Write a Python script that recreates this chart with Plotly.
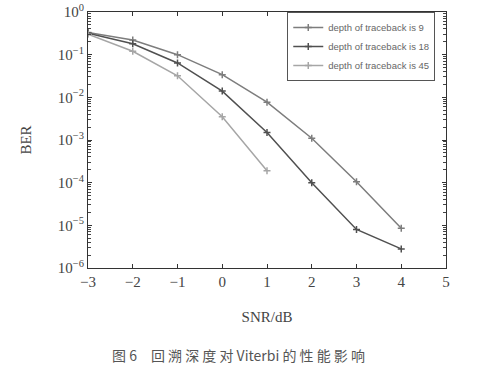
import plotly.graph_objects as go

snr = [-3, -2, -1, 0, 1, 2, 3, 4]
snr45 = [-3, -2, -1, 0, 1]
ber_tb9 = [0.33, 0.22, 0.10, 0.034, 0.0077, 0.0011, 1.05e-4, 8.5e-6]
ber_tb18 = [0.32, 0.18, 0.064, 0.014, 0.0015, 1.0e-4, 8.0e-6, 2.8e-6]
ber_tb45 = [0.30, 0.12, 0.032, 0.0035, 1.9e-4]
names = ["depth of traceback is 9", "depth of traceback is 18", "depth of traceback is 45"]
x_ticks = [-3, -2, -1, 0, 1, 2, 3, 4, 5]
y_exps = [0, -1, -2, -3, -4, -5, -6]

colors = ["#7d7d7d", "#505050", "#a6a6a6"]
series = [(snr, ber_tb9), (snr, ber_tb18), (snr45, ber_tb45)]

minor_vals = [m * 10.0 ** e for e in range(-6, 0) for m in range(2, 10)]

fig = go.Figure()
for (xs, ys), nm, c in zip(series, names, colors):
    fig.add_trace(go.Scatter(
        x=xs, y=ys, name=nm, mode="lines+markers",
        line=dict(color=c, width=1.5),
        marker=dict(symbol="cross-thin-open", size=5, color=c, line=dict(color=c, width=1.5)),
    ))

serif = "Liberation Serif, Times New Roman, serif"
axis_common = dict(
    showline=True, linecolor="#333", linewidth=1.2, mirror="ticks",
    ticks="inside", ticklen=4, tickcolor="#333", showgrid=False, zeroline=False,
    tickfont=dict(family=serif, size=15, color="#444"), automargin=False,
    ticklabeloverflow="allow",
)

fig.update_layout(
    width=487, height=370,
    margin=dict(l=88, r=41, t=12, b=102),
    paper_bgcolor="white", plot_bgcolor="white",
    showlegend=True,
    legend=dict(
        x=0.97, y=1.0, xanchor="right", yanchor="top",
        bordercolor="#555", borderwidth=1, bgcolor="white",
        font=dict(family="Liberation Sans, Arial, sans-serif", size=9.5, color="#666"),
        tracegroupgap=0, itemwidth=30,
    ),
    xaxis=dict(
        range=[-3, 5], tickvals=x_ticks,
        ticktext=[("\u2212" + str(-v)) if v < 0 else str(v) for v in x_ticks],
        title=dict(text="SNR/dB", font=dict(family=serif, size=15, color="#444"), standoff=22),
        **axis_common,
    ),
    yaxis=dict(
        type="log", range=[-6, 0], tickmode="array",
        tickvals=[10.0 ** e for e in y_exps],
        ticktext=["10<sup>" + ("\u2212" + str(-e) if e < 0 else str(e)) + "</sup>" for e in y_exps],
        minor=dict(ticks="inside", ticklen=2.5, tickwidth=1, tickcolor="#444",
                   tickmode="array", tickvals=minor_vals, showgrid=False),
        title=dict(text="BER", font=dict(family=serif, size=15, color="#444"), standoff=22),
        **axis_common,
    ),
)

fig.add_annotation(
    text="图 6　回 溯 深 度 对 Viterbi 的 性 能 影 响",
    xref="paper", yref="paper", x=0.42, y=-0.34, xanchor="center", yanchor="middle",
    showarrow=False, font=dict(family="Noto Sans CJK SC", size=14, color="#555"),
)

fig.write_html("out.html", config={"displayModeBar": False},
               post_script="document.body.style.margin='0';")
